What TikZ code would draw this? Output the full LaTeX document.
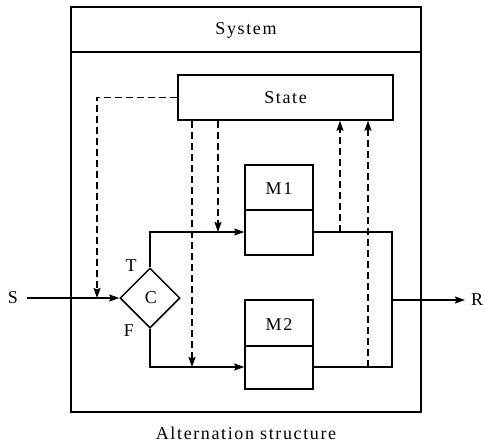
\documentclass[tikz,border=0pt]{standalone}
\usepackage{fontspec}
\setmainfont{Liberation Serif}
\usetikzlibrary{arrows.meta,shapes.geometric}
\tikzset{
  ln/.style={line width=1.5pt},
  arr/.style={ln,-{Stealth[length=10pt,width=7pt,inset=1.5pt]}},
  darr/.style={arr,dash pattern=on 7pt off 4pt},
  box/.style={draw,line width=1.5pt,rectangle,inner sep=0pt},
  lbl/.style={font=\fontsize{18}{20}\selectfont\addfontfeature{LetterSpace=9}},
}
\begin{document}
\begin{tikzpicture}[x=1pt,y=-1pt]
\useasboundingbox (0,0) rectangle (485,447);
% outer system box
\node[box,minimum width=350pt,minimum height=405pt] (sys) at (246,209.5) {};
\draw[ln] (sys.west |- 0,52) coordinate (hl) -- (sys.east |- 0,52) coordinate (hr);
\node[lbl] (systxt) at (246,30) {System};
% state
\node[box,minimum width=215pt,minimum height=45pt] (state) at (285.5,97.5) {};
\node[lbl] (statetxt) at (285.5,98) {State};
% M1
\node[box,minimum width=68pt,minimum height=90pt] (m1) at (279,210) {};
\draw[ln] (m1.west) -- (m1.east);
\node[lbl] (m1txt) at (279,189) {M1};
% M2
\node[box,minimum width=68pt,minimum height=89pt] (m2) at (279,344.5) {};
\draw[ln] (m2.west |- 0,346) -- (m2.east |- 0,346);
\node[lbl] (m2txt) at (279,325) {M2};
% decision
\node[draw,ln,diamond,aspect=1,minimum width=60pt,minimum height=60pt,inner sep=0pt] (c) at (150,298) {};
\node[lbl] (ctxt) at (151,298) {C};
\node[lbl] (t) at (131,266) {T};
\node[lbl] (f) at (129,331) {F};
% S and R
\node[lbl,inner sep=0pt] (s) at (13,298) {S};
\node[lbl,inner sep=0pt] (r) at (477,300) {R};
\coordinate (sstart) at (27,298);
\coordinate (rend) at (465,300);
\coordinate (rstart) at (392,300);
% solid connectors
\draw[arr] (sstart) -- (c.west);
\coordinate (m1in) at (m1.west |- 0,232);
\coordinate (m2in) at (m2.west |- 0,367);
\draw[arr] (c.north) |- (m1in);
\draw[arr] (c.south) |- (m2in);
\coordinate (m1out) at (m1.east |- 0,232);
\coordinate (m2out) at (m2.east |- 0,367);
\coordinate (jn) at (392,232);
\draw[ln] (m1out) -- (jn) |- (m2out);
\draw[arr] (rstart) -- (rend);
% dashed connectors
\coordinate (dc) at (97,298);
\draw[darr] (state.west) -| (dc);
\coordinate (d1) at (218,232);
\coordinate (d2) at (192,367);
\draw[darr] (state.south -| d1) -- (d1);
\draw[darr] (state.south -| d2) -- (d2);
\coordinate (u1) at (340,232);
\coordinate (u2) at (368,367);
\draw[darr] (u1) -- (state.south -| u1);
\draw[darr] (u2) -- (state.south -| u2);
% caption
\node[lbl] (cap) at (246,433) {Alternation structure};
\end{tikzpicture}
\end{document}
